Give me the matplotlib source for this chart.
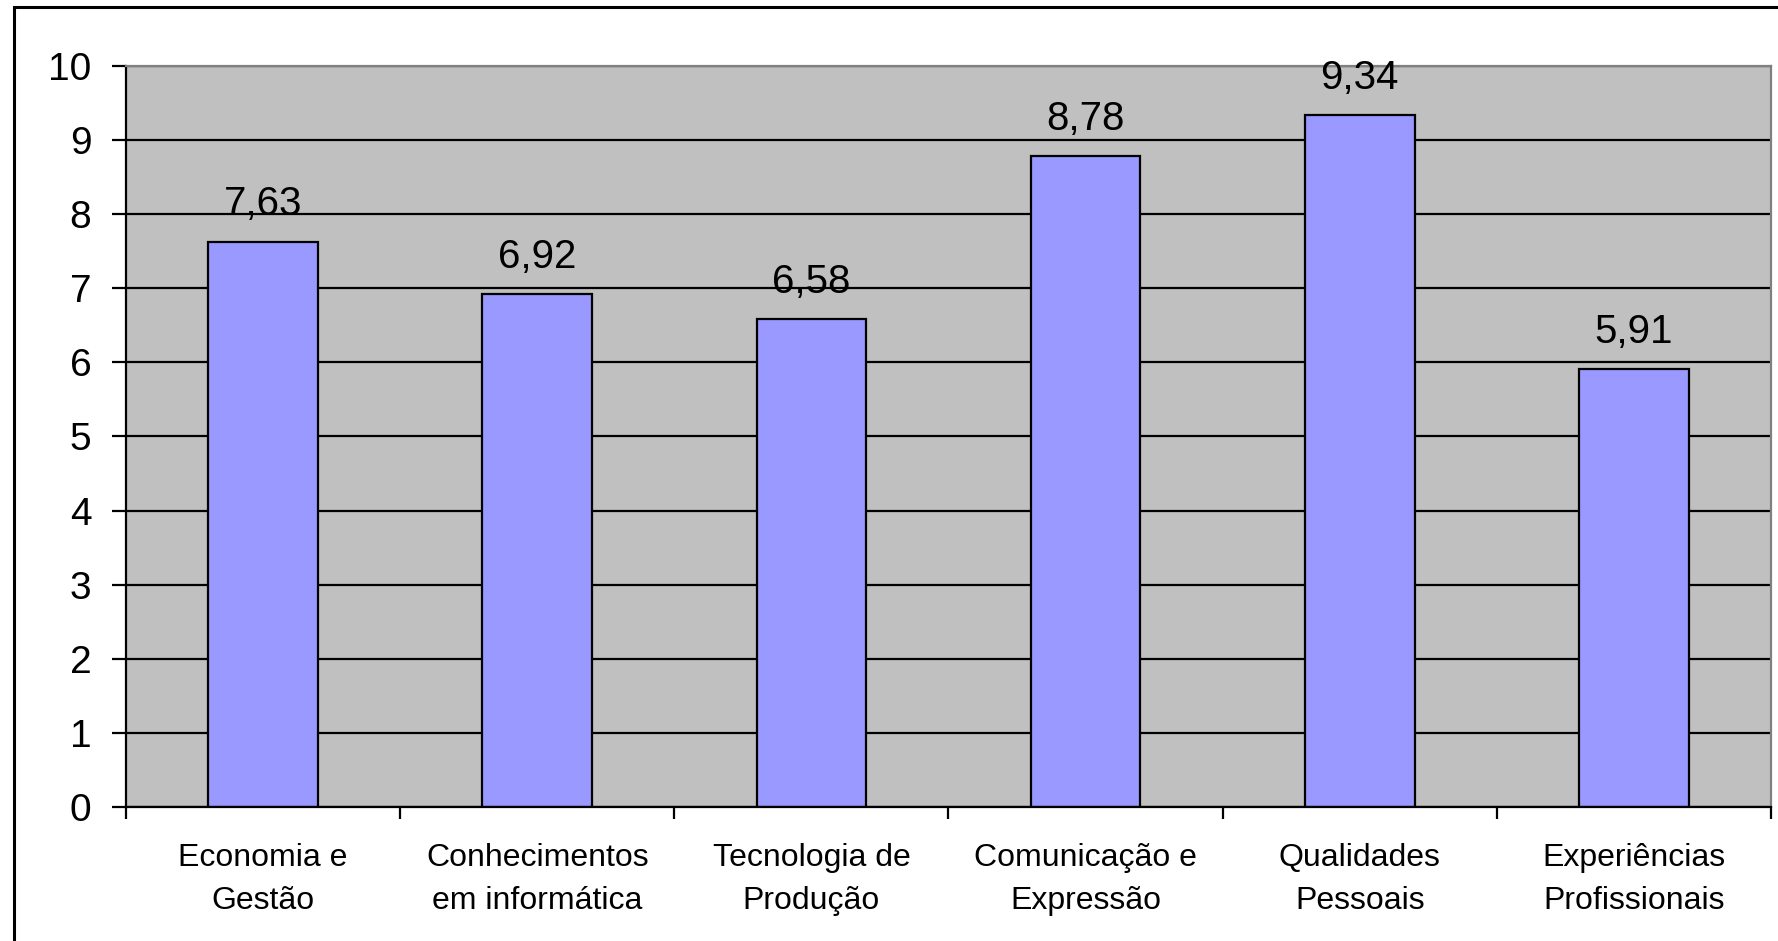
import matplotlib
matplotlib.use("Agg")
import matplotlib.pyplot as plt
from matplotlib.patches import Rectangle
import numpy as np

categories = ["Economia e\nGestão", "Conhecimentos\nem informática", "Tecnologia de\nProdução",
              "Comunicação e\nExpressão", "Qualidades\nPessoais", "Experiências\nProfissionais"]
values = [7.63, 6.92, 6.58, 8.78, 9.34, 5.91]
value_labels = ["7,63", "6,92", "6,58", "8,78", "9,34", "5,91"]
yticks = list(range(0, 11))

plt.rcParams['font.family'] = ['Liberation Sans', 'DejaVu Sans']

W, H = 1778, 941
fig = plt.figure(figsize=(W / 100, H / 100), dpi=100)
fig.patch.set_facecolor("white")

# outer frame
fig.patches.append(Rectangle((14 / W, -0.2), 1.5, 1.2 - 7 / H, transform=fig.transFigure,
                             fill=False, edgecolor="black", linewidth=2.2))

left, right, top, bottom = 126, 1771, 66, 807
ax = fig.add_axes([left / W, 1 - bottom / H, (right - left) / W, (bottom - top) / H])
ax.set_facecolor("#C0C0C0")

x = np.arange(len(values))
ax.set_axisbelow(True)
ax.yaxis.grid(True, color="black", linewidth=1.6)
ax.bar(x, values, width=0.4, color="#9999FF", edgecolor="black", linewidth=1.6, zorder=3)

for xi, v, lab in zip(x, values, value_labels):
    ax.annotate(lab, (xi, v), xytext=(0, 19), textcoords="offset points",
                ha="center", va="baseline", fontsize=29, zorder=4, annotation_clip=False)

ax.set_xlim(-0.5, len(values) - 0.5)
ax.set_ylim(0, 10)
ax.set_yticks(yticks)
ax.set_yticklabels([str(t) for t in yticks])
ax.tick_params(axis="y", direction="out", length=10, width=1.6, pad=15, labelsize=28, color="black")

ax.set_xticks(x)
ax.set_xticklabels(categories, fontsize=23, linespacing=1.55)
ax.tick_params(axis="x", which="major", length=0, pad=26)
ax.set_xticks(np.arange(-0.5, len(values), 1.0), minor=True)
ax.tick_params(axis="x", which="minor", direction="out", length=8.5, width=1.6, color="black")

for s in ["top", "right"]:
    ax.spines[s].set_color("#808080")
    ax.spines[s].set_linewidth(1.6)
for s in ["left", "bottom"]:
    ax.spines[s].set_color("black")
    ax.spines[s].set_linewidth(1.6)
ax.spines["bottom"].set_zorder(5)

fig.savefig("out.png", dpi=100)
